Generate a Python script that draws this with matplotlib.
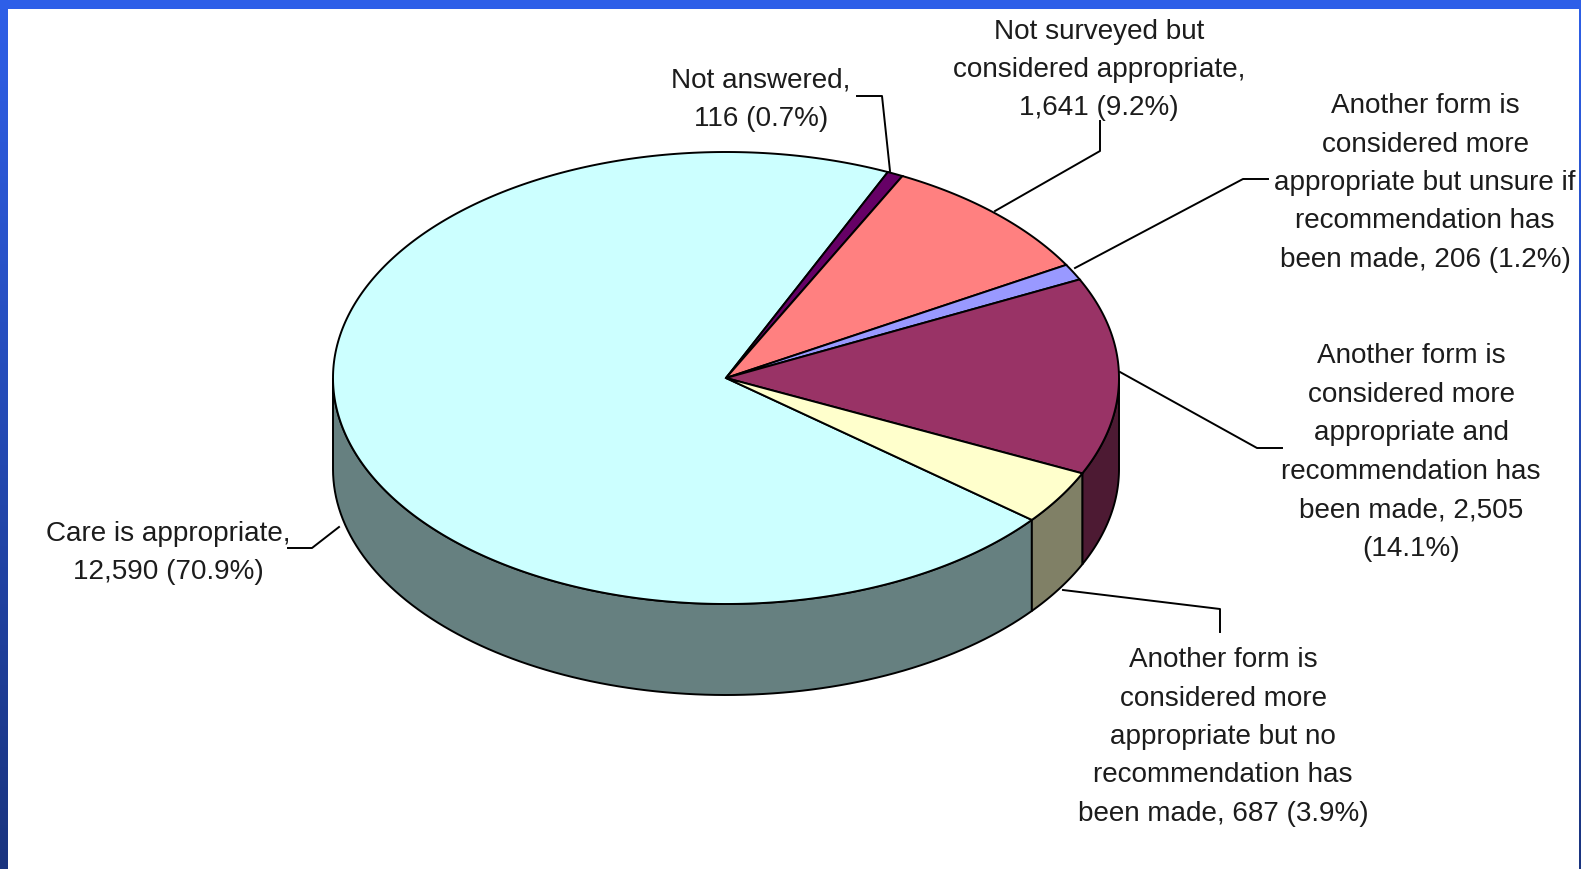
import numpy as np
import matplotlib
matplotlib.use('Agg')
from matplotlib import pyplot as plt
from matplotlib.patches import Polygon
from matplotlib.colors import to_rgb, LinearSegmentedColormap

# slices, clockwise from the front-right boundary
labels = ['Care is appropriate,\n12,590 (70.9%)',
          'Not answered,\n116 (0.7%)',
          'Not surveyed but\nconsidered appropriate,\n1,641 (9.2%)',
          'Another form is\nconsidered more\nappropriate but unsure if\nrecommendation has\nbeen made, 206 (1.2%)',
          'Another form is\nconsidered more\nappropriate and\nrecommendation has\nbeen made, 2,505\n(14.1%)',
          'Another form is\nconsidered more\nappropriate but no\nrecommendation has\nbeen made, 687 (3.9%)']
values = [12590, 116, 1641, 206, 2505, 687]
colors = ['#ccffff', '#660066', '#ff8080', '#9999ff', '#993366', '#ffffcc']

W, H = 1581, 870
fig = plt.figure(figsize=(W/100, H/100), dpi=100)
ax = fig.add_axes([0, 0, 1, 1])
ax.set_xlim(0, W)
ax.set_ylim(H, 0)
ax.axis('off')

cx, cy, a, b, depth = 726, 379, 393, 226, 91
start = -38.9


def pt(t, dy=0):
    r = np.radians(t)
    return cx + a*np.cos(r), cy - b*np.sin(r) + dy


fracs = np.array(values) / sum(values)
bounds = []
t = start
for f in fracs:
    bounds.append((t - 360*f, t))
    t -= 360*f

# side walls (front half only)
for (lo, hi), c in zip(bounds, colors):
    side = tuple(np.array(to_rgb(c)) * 0.5)
    for k in (-1, 0, 1):
        s, e = max(lo, -180 + 360*k), min(hi, 360*k)
        if e <= s:
            continue
        ts = np.linspace(s, e, 100)
        top = [pt(v) for v in ts]
        bot = [pt(v, depth) for v in ts[::-1]]
        ax.add_patch(Polygon(top + bot, closed=True, fc=side, ec='black', lw=1.4, zorder=2))

# top faces
for (lo, hi), c in zip(bounds, colors):
    ts = np.linspace(lo, hi, 300)
    poly = [(cx, cy)] + [pt(v) for v in ts]
    ax.add_patch(Polygon(poly, closed=True, fc=c, ec='black', lw=1.4, zorder=3))

# labels and leader lines
label_xy = [(168, 553), (761, 99.5), (1099, 70), (1425, 183), (1411, 452.5), (1223, 737)]
leaders = [
    [(288, 549), (312, 549), (339, 528)],
    [(857, 97), (882, 97), (890, 172)],
    [(1100, 122), (1100, 152), (995, 212)],
    [(1268, 180), (1243, 180), (1075, 269)],
    [(1282, 449), (1257, 449), (1120, 373)],
    [(1220, 633), (1220, 610), (1063, 591)],
]
for lab, (x, y), ln in zip(labels, label_xy, leaders):
    ax.text(x, y, lab, ha='center', va='center', multialignment='center',
            fontsize=20.1, family='Liberation Sans', color='#1c1c1c',
            linespacing=1.62, zorder=5)
    xs, ys = zip(*ln)
    ax.plot(xs, ys, color='black', lw=1.4, zorder=4)

# blue frame
grad = LinearSegmentedColormap.from_list('frame', ['#2e5fe8', '#1a347f'])
g = np.linspace(0, 1, 256).reshape(-1, 1)
ax.imshow(g, cmap=grad, extent=(0, 8, H, 0), aspect='auto', zorder=6)
ax.imshow(g, cmap=grad, extent=(W-2, W, H, 0), aspect='auto', zorder=6)
ax.fill([0, W, W, 0], [0, 0, 10, 10], color='#2e5fe8', lw=0, zorder=7)
ax.set_xlim(0, W)
ax.set_ylim(H, 0)

fig.savefig('out.png', dpi=100)
